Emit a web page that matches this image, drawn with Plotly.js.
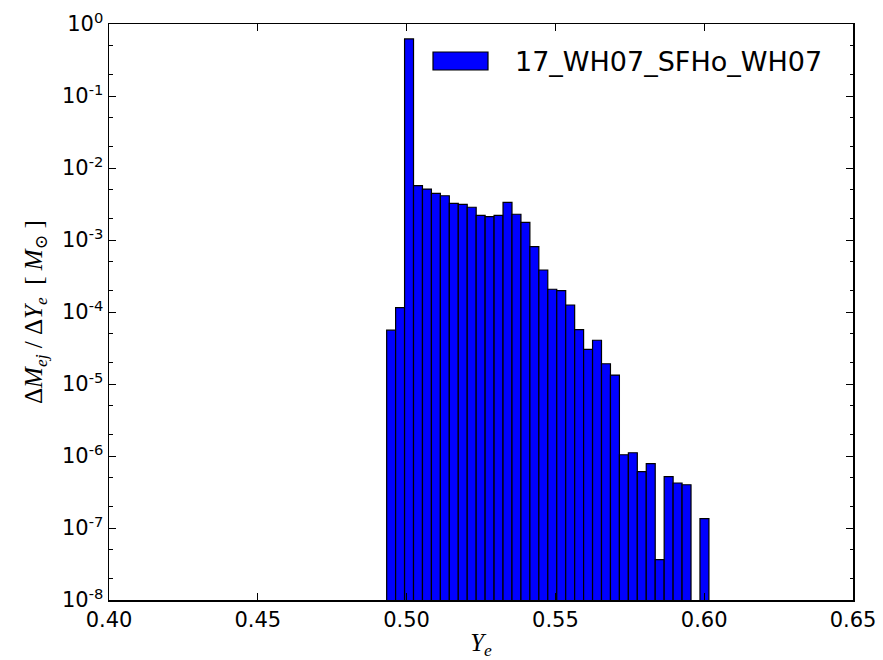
<!DOCTYPE html>
<html>
<head>
<meta charset="utf-8">
<script src="https://cdn.plot.ly/plotly-3.0.1.min.js"></script>
<style>html,body{margin:0;padding:0;background:#fff;}#chart{width:883px;height:660px;}</style>
</head>
<body>
<div id="chart"></div>
<script>
// Histogram bins (Ye), 36 bins
const binStart = 0.4933;
const binWidth = 0.003008;
const massValues = [
  5.6e-5, 1.15e-4, 0.62, 5.68e-3, 5.1e-3, 4.45e-3, 4.12e-3, 3.23e-3, 3.13e-3, 2.85e-3,
  2.2e-3, 2.11e-3, 2.2e-3, 3.34e-3, 2.28e-3, 1.76e-3, 8.07e-4, 3.83e-4, 2.07e-4, 1.98e-4,
  1.25e-4, 5.68e-5, 3.03e-5, 4.05e-5, 1.91e-5, 1.33e-5, 1.04e-6, 1.11e-6, 6.05e-7, 7.82e-7,
  3.63e-8, 5.16e-7, 4.22e-7, 3.99e-7, null, 1.35e-7
];
const seriesName = "17_WH07_SFHo_WH07";
const xTickVals = [0.40, 0.45, 0.50, 0.55, 0.60, 0.65];
const xTickText = ["0.40", "0.45", "0.50", "0.55", "0.60", "0.65"];
const yTickVals = [1, 1e-1, 1e-2, 1e-3, 1e-4, 1e-5, 1e-6, 1e-7, 1e-8];
const yTickText = ["10<sup>0</sup>", "10<sup>-1</sup>", "10<sup>-2</sup>", "10<sup>-3</sup>",
  "10<sup>-4</sup>", "10<sup>-5</sup>", "10<sup>-6</sup>", "10<sup>-7</sup>", "10<sup>-8</sup>"];

const xCenters = massValues.map((_, i) => binStart + (i + 0.5) * binWidth);

const trace = {
  type: 'bar',
  x: xCenters,
  y: massValues,
  width: binWidth,
  name: seriesName,
  marker: {color: '#0000ff', line: {color: '#000000', width: 1.2}},
  showlegend: false,
  hoverinfo: 'x+y'
};

const font = {family: 'DejaVu Sans, sans-serif', size: 20, color: '#000'};

const layout = {
  width: 883, height: 660,
  margin: {l: 109, r: 30, t: 24, b: 60, pad: 0},
  paper_bgcolor: '#fff', plot_bgcolor: '#fff',
  font: font,
  bargap: 0,
  xaxis: {
    range: [0.40, 0.65],
    tickmode: 'array', tickvals: xTickVals, ticktext: xTickText,
    ticks: 'inside', ticklen: 7, tickwidth: 1, tickcolor: '#000',
    showline: true, linecolor: '#000', linewidth: 1.5, mirror: 'ticks',
    showgrid: false, zeroline: false,
    tickfont: {family: 'DejaVu Sans, sans-serif', size: 21, color: '#000'},
    title: {text: '<i>Y</i><sub><i>e</i></sub>', standoff: 12,
      font: {family: 'Liberation Serif, DejaVu Serif, serif', size: 25, color: '#000'}}
  },
  yaxis: {
    type: 'log', range: [-8, 0],
    tickmode: 'array', tickvals: yTickVals, ticktext: yTickText,
    ticks: 'inside', ticklen: 7, tickwidth: 1, tickcolor: '#000',
    minor: {ticks: 'inside', ticklen: 3.5, tickwidth: 1, tickcolor: '#000', showgrid: false},
    showline: true, linecolor: '#000', linewidth: 1.5, mirror: 'ticks',
    showgrid: false, zeroline: false,
    tickfont: {family: 'DejaVu Sans, sans-serif', size: 21, color: '#000'},
    title: {text: 'Δ<i>M</i><sub><i>ej</i></sub> / Δ<i>Y</i><sub><i>e</i></sub>  [ <i>M</i><sub>⊙</sub> ]', standoff: 12,
      font: {family: 'Liberation Serif, DejaVu Serif, serif', size: 25, color: '#000'}}
  },
  shapes: [{
    type: 'rect', xref: 'paper', yref: 'paper',
    x0: (433 - 109) / 744, x1: (488 - 109) / 744,
    y0: (600 - 70) / 576, y1: (600 - 52) / 576,
    fillcolor: '#0000ff', line: {color: '#000', width: 1.2}
  }],
  annotations: [{
    xref: 'paper', yref: 'paper', x: (513 - 109) / 744, y: (600 - 61) / 576,
    xanchor: 'left', yanchor: 'middle', showarrow: false,
    text: seriesName,
    font: {family: 'DejaVu Sans, sans-serif', size: 27, color: '#000'}
  }]
};

Plotly.newPlot('chart', [trace], layout, {displayModeBar: false, staticPlot: true});
</script>
</body>
</html>
